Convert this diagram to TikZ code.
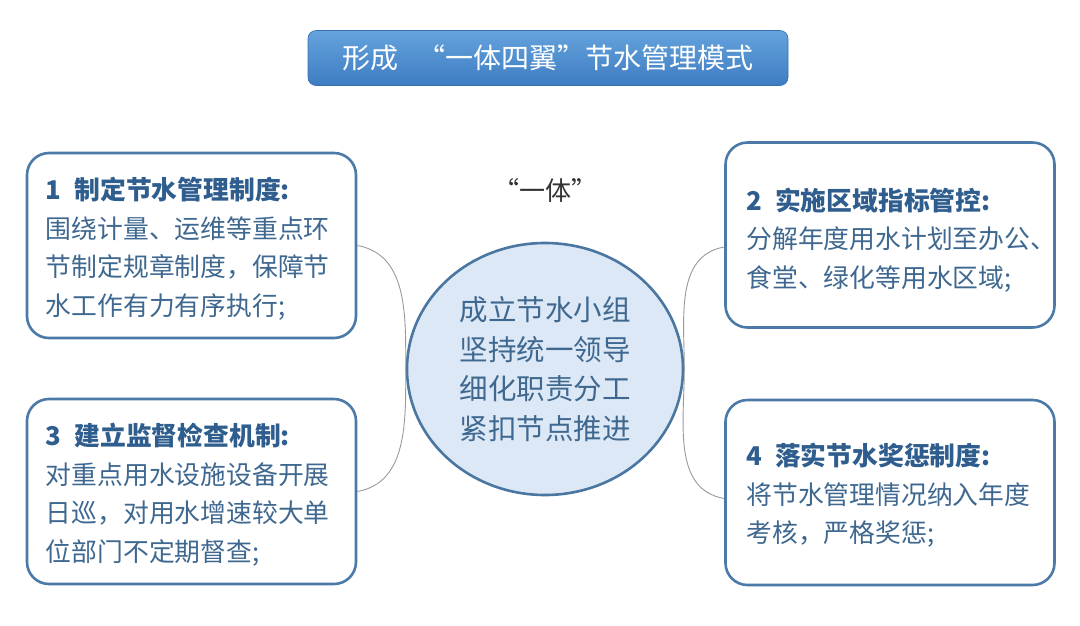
\documentclass[tikz,border=0pt]{standalone}
\usepackage{fontspec}
\setmainfont{Noto Sans CJK SC}
\newfontfamily\cjk{Noto Sans CJK SC}
\usetikzlibrary{shapes.geometric}
\definecolor{boxline}{HTML}{4B79A8}
\definecolor{headc}{HTML}{2F5E8E}
\definecolor{bodyc}{HTML}{3F6890}
\definecolor{circfill}{HTML}{DCE8F5}
\definecolor{circline}{HTML}{4A76A2}
\definecolor{titletop}{HTML}{64A3DD}
\definecolor{titlebot}{HTML}{3E7CC2}
\definecolor{conn}{HTML}{9A9A9A}
\tikzset{
  infobox/.style={draw=boxline, line width=2.6pt, rounded corners=22pt, fill=white,
    minimum width=329pt, minimum height=185pt},
  infotext/.style={anchor=west, align=left, inner sep=0pt,
    font=\cjk\fontsize{25.8}{38.5}\selectfont, text=bodyc},
  conline/.style={draw=conn, line width=0.9pt},
}
\newcommand{\hd}[2]{{\bfseries\color{headc}#1\hspace{0.5em}#2}}
\begin{document}
\begin{tikzpicture}[x=1pt,y=-1pt]
\useasboundingbox (0,0) rectangle (1080,625);
\fill[white] (0,0) rectangle (1080,625);
% title
\node[rounded corners=8pt, top color=titletop, bottom color=titlebot, draw=titlebot!90!black, line width=0.6pt,
  minimum width=480pt, minimum height=55pt, text=white, font=\cjk\fontsize{28}{30}\selectfont]
  (title) at (548,58) {形成\hspace{0.7em}“一体四翼”节水管理模式};
% yiti label
\node[font=\cjk\fontsize{26}{30}\selectfont, text=black!80] (yiti) at (545,190) {“一体”};
% center ellipse
\node[ellipse, draw=circline, line width=2.6pt, fill=circfill, minimum width=276pt, minimum height=252pt,
  align=center, text=bodyc, font=\cjk\fontsize{28.5}{39.5}\selectfont] (c) at (545,369)
  {成立节水小组\\坚持统一领导\\细化职责分工\\紧扣节点推进};
% boxes
\node[infobox] (b1) at (191.5,245.5) {};
\node[infobox] (b3) at (191.5,491.5) {};
\node[infobox] (b2) at (890,235) {};
\node[infobox] (b4) at (890,492.5) {};
\node[infotext] (t1) at ([xshift=20pt,yshift=-3pt]b1.west) {\hd{1}{制定节水管理制度:}\\围绕计量、运维等重点环\\节制定规章制度，保障节\\水工作有力有序执行;};
\node[infotext] (t3) at ([xshift=20pt,yshift=-3pt]b3.west) {\hd{3}{建立监督检查机制:}\\对重点用水设施设备开展\\日巡，对用水增速较大单\\位部门不定期督查;};
\node[infotext] (t2) at ([xshift=22pt,yshift=-5pt]b2.west) {\hd{2}{实施区域指标管控:}\\分解年度用水计划至办公、\\食堂、绿化等用水区域;};
\node[infotext] (t4) at ([xshift=22pt,yshift=-3pt]b4.west) {\hd{4}{落实节水奖惩制度:}\\将节水管理情况纳入年度\\考核，严格奖惩;};
% connectors
\draw[conline] (b1.east) to[out=-10,in=90] (c.west) to[out=-90,in=10] (b3.east);
\draw[conline] ([yshift=-12pt]b2.west) to[out=190,in=90] (c.east) to[out=-90,in=170] ([yshift=-6pt]b4.west);
\end{tikzpicture}
\end{document}
